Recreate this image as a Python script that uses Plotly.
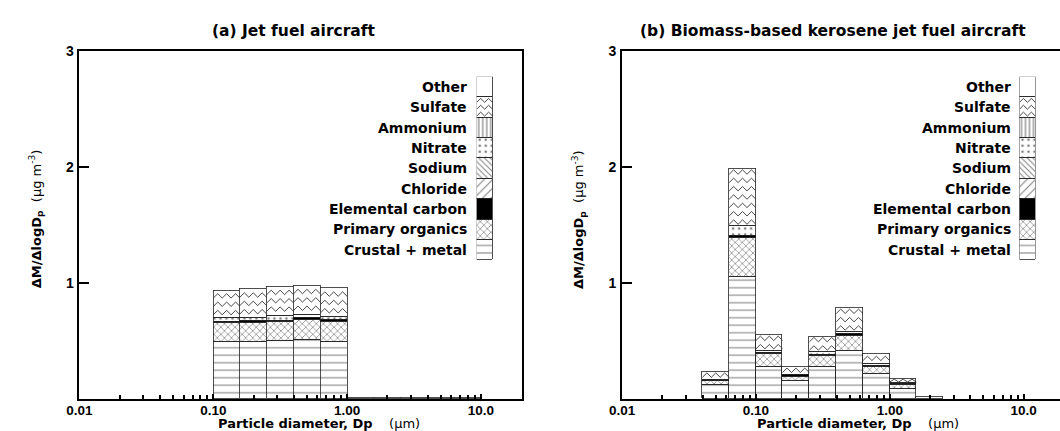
import numpy as np
import plotly.graph_objects as go

# ---------------- data ----------------
CATEGORIES = ["Crustal + metal", "Primary organics", "Elemental carbon", "Chloride",
              "Sodium", "Nitrate", "Ammonium", "Sulfate", "Other"]

# (a) Jet fuel aircraft : size-bin edges (um) and dM/dlogDp (ug m-3) per species
EDGES_A = [0.100, 0.158, 0.251, 0.398, 0.631, 1.00, 1.58, 2.51, 3.98, 6.31, 10.0]
CRUSTAL_A = [0.497, 0.497, 0.506, 0.510, 0.500, 0.012, 0.012, 0.012, 0.012, 0.012]
ORGANICS_A = [0.160, 0.165, 0.160, 0.175, 0.170, 0, 0, 0, 0, 0]
EC_A = [0.013, 0.013, 0.013, 0.015, 0.013, 0, 0, 0, 0, 0]
CHLORIDE_A = [0, 0, 0, 0, 0, 0, 0, 0, 0, 0]
SODIUM_A = [0, 0, 0, 0, 0, 0, 0, 0, 0, 0]
NITRATE_A = [0.030, 0.025, 0.045, 0.030, 0.025, 0, 0, 0, 0, 0]
AMMONIUM_A = [0, 0, 0, 0, 0, 0, 0, 0, 0, 0]
SULFATE_A = [0.235, 0.250, 0.247, 0.250, 0.250, 0, 0, 0, 0, 0]
OTHER_A = [0, 0, 0, 0, 0, 0, 0, 0, 0, 0]

# (b) Biomass-based kerosene jet fuel aircraft
EDGES_B = [0.0398, 0.0631, 0.100, 0.158, 0.251, 0.398, 0.631, 1.00, 1.58, 2.51]
CRUSTAL_B = [0.125, 1.053, 0.282, 0.155, 0.282, 0.415, 0.217, 0.093, 0.020]
ORGANICS_B = [0.032, 0.340, 0.110, 0.038, 0.090, 0.132, 0.062, 0.032, 0]
EC_B = [0.006, 0.020, 0.012, 0.014, 0.012, 0.014, 0.014, 0.010, 0]
CHLORIDE_B = [0, 0, 0, 0, 0, 0, 0, 0, 0]
SODIUM_B = [0, 0, 0, 0, 0, 0, 0, 0, 0]
NITRATE_B = [0.008, 0.085, 0.014, 0.005, 0.026, 0.018, 0.012, 0.003, 0]
AMMONIUM_B = [0, 0, 0, 0, 0, 0, 0, 0, 0]
SULFATE_B = [0.069, 0.490, 0.138, 0.070, 0.132, 0.211, 0.090, 0.040, 0]
OTHER_B = [0, 0, 0, 0, 0, 0, 0, 0, 0]

X_TICK_VALUES = [0.01, 0.1, 1.0, 10.0]
X_TICK_LABELS = ["0.01", "0.10", "1.00", "10.0"]
Y_TICK_VALUES = [1, 2, 3]
Y_TICK_LABELS = ["1", "2", "3"]

TITLE_A = "(a) Jet fuel aircraft"
TITLE_B = "(b) Biomass-based kerosene jet fuel aircraft"

SERIES_A = [CRUSTAL_A, ORGANICS_A, EC_A, CHLORIDE_A, SODIUM_A, NITRATE_A, AMMONIUM_A, SULFATE_A, OTHER_A]
SERIES_B = [CRUSTAL_B, ORGANICS_B, EC_B, CHLORIDE_B, SODIUM_B, NITRATE_B, AMMONIUM_B, SULFATE_B, OTHER_B]

# ---------------- style ----------------
W, H = 1060, 431
FONT = "Liberation Sans, Arial, Helvetica, sans-serif"
DFONT = "DejaVu Sans, Verdana, sans-serif"
PX_PER_DECADE = 135.5
PX_PER_UNIT_Y = 118.0

STYLE = {
    "Crustal + metal": dict(color="white", pattern=dict(shape="-", size=7.5, solidity=0.14, fgcolor="black", bgcolor="white")),
    "Primary organics": dict(color="white", pattern=dict(shape="x", size=5, solidity=0.25, fgcolor="black", bgcolor="white")),
    "Elemental carbon": dict(color="black"),
    "Chloride": dict(color="white", pattern=dict(shape="/", size=6, solidity=0.18, fgcolor="black", bgcolor="white")),
    "Sodium": dict(color="white", pattern=dict(shape="\\", size=4, solidity=0.25, fgcolor="black", bgcolor="white")),
    "Nitrate": dict(color="white", pattern=dict(shape=".", size=6, solidity=0.16, fgcolor="black", bgcolor="white")),
    "Ammonium": dict(color="white", pattern=dict(shape="|", size=4, solidity=0.3, fgcolor="black", bgcolor="white")),
    "Sulfate": dict(color="white"),
    "Other": dict(color="white"),
}
OUTLINE = dict(color="#222222", width=0.8)
ZIG_LINE = dict(color="#333333", width=0.9)


def zigzag(x0, x1, y0, y1, sx, sy, period=9.0, amp=4.5, gap=8.5):
    """Chevron texture inside a box, returned in data units."""
    w = (x1 - x0) * sx
    h = (y1 - y0) * sy
    xs, ys = [], []
    if h < 3 or w < 3:
        return xs, ys
    a = min(amp, 0.6 * h)
    n = max(1, int((h - a - 2) // gap) + 1)
    start = (h - (n - 1) * gap) / 2
    half = period / 2
    for r in range(n):
        c = start + r * gap
        px = np.arange(0.0, w + half, half)
        py = np.where(np.arange(len(px)) % 2 == 0, c - a / 2, c + a / 2).astype(float)
        if px[-1] > w:
            t = (w - px[-2]) / (px[-1] - px[-2])
            py[-1] = py[-2] + t * (py[-1] - py[-2])
            px[-1] = w
        xs += list(x0 + px / sx) + [None]
        ys += list(y0 + py / sy) + [None]
    return xs, ys


fig = go.Figure()


def add_panel(edges, series, xa, ya):
    lo = np.log10(np.array(edges[:-1]))
    hi = np.log10(np.array(edges[1:]))
    centers = (lo + hi) / 2
    widths = hi - lo
    base = np.zeros(len(centers))
    zx, zy = [], []
    for name, vals in zip(CATEGORIES, series):
        v = np.array(vals, dtype=float)
        yv = [val if val > 0 else None for val in v]
        st = STYLE[name]
        marker = dict(color=st["color"], line=OUTLINE)
        if "pattern" in st:
            marker["pattern"] = st["pattern"]
        fig.add_trace(go.Bar(x=centers, y=yv, width=widths, marker=marker, name=name,
                             xaxis=xa, yaxis=ya, showlegend=False, hoverinfo="skip"))
        if name == "Sulfate":
            for i in range(len(v)):
                if v[i] > 0:
                    a, b = zigzag(lo[i], hi[i], base[i], base[i] + v[i], PX_PER_DECADE, PX_PER_UNIT_Y)
                    zx += a
                    zy += b
        base = base + v
    fig.add_trace(go.Scatter(x=zx, y=zy, mode="lines", line=ZIG_LINE,
                             xaxis=xa, yaxis=ya, showlegend=False, hoverinfo="skip"))


def add_key(xa, ya, sx, sy):
    zx, zy = [], []
    for i, name in enumerate(CATEGORIES):
        st = STYLE[name]
        marker = dict(color=st["color"], line=OUTLINE)
        if "pattern" in st:
            marker["pattern"] = st["pattern"]
        fig.add_trace(go.Bar(x=[0.5], y=[1], width=[1], marker=marker, xaxis=xa, yaxis=ya,
                             showlegend=False, hoverinfo="skip"))
        if name == "Sulfate":
            a, b = zigzag(0, 1, i, i + 1, sx, sy, period=8.0, amp=4.0, gap=7.0)
            zx += a
            zy += b
    fig.add_trace(go.Scatter(x=zx, y=zy, mode="lines", line=ZIG_LINE,
                             xaxis=xa, yaxis=ya, showlegend=False, hoverinfo="skip"))


add_panel(EDGES_A, SERIES_A, "x", "y")
add_panel(EDGES_B, SERIES_B, "x2", "y2")

KEY_TOP, KEY_BOT = 70.0, 256.7
KEY_SY = (KEY_BOT - KEY_TOP) / len(CATEGORIES)
add_key("x3", "y3", 16.5, KEY_SY)
add_key("x4", "y4", 16.3, KEY_SY)

minor_vals = [float(np.log10(k * 10.0 ** e)) for e in (-2, -1, 0) for k in range(2, 10)]
xtick_font = dict(family=FONT, size=13.5, color="black")
ytick_font = dict(family=FONT, size=14, color="black")


def xaxis_cfg(dom, rng):
    return dict(domain=dom, range=rng, tickmode="array",
                tickvals=[float(np.log10(v)) for v in X_TICK_VALUES],
                ticktext=["<b>%s</b>" % t for t in X_TICK_LABELS],
                ticks="inside", ticklen=5, tickwidth=1.5, tickcolor="black",
                showline=True, linewidth=2, linecolor="black", mirror=True,
                showgrid=False, zeroline=False, tickfont=xtick_font, ticklabelstandoff=-2,
                minor=dict(tickvals=minor_vals, ticks="inside", ticklen=4, tickwidth=1.5,
                           tickcolor="black", showgrid=False))


def yaxis_cfg(dom, mirror):
    return dict(domain=dom, range=[0, 3], tickmode="array", tickvals=Y_TICK_VALUES,
                ticktext=["<b>%s</b>" % t for t in Y_TICK_LABELS],
                ticks="inside", ticklen=10, tickwidth=2, tickcolor="black",
                showline=True, linewidth=2, linecolor="black", mirror=mirror,
                showgrid=False, zeroline=False, tickfont=ytick_font, ticklabelstandoff=1)


YDOM = [(H - 398.3) / H, (H - 44.3) / H]
KEY_YDOM = [(H - KEY_BOT) / H, (H - KEY_TOP) / H]

fig.update_layout(
    width=W, height=H, autosize=False,
    margin=dict(l=0, r=0, t=0, b=0, pad=0),
    paper_bgcolor="white", plot_bgcolor="white",
    barmode="stack", bargap=0, showlegend=False,
    font=dict(family=FONT, color="black"),
    xaxis=dict(anchor="y", **xaxis_cfg([67.3 / W, 515.0 / W], [-2, -2 + (515.0 - 67.3) / PX_PER_DECADE])),
    yaxis=dict(anchor="x", **yaxis_cfg(YDOM, True)),
    xaxis2=dict(anchor="y2", **xaxis_cfg([616.7 / W, 1.0], [-2, -2 + (W - 616.7) / PX_PER_DECADE])),
    yaxis2=dict(anchor="x2", **yaxis_cfg(YDOM, False)),
    xaxis3=dict(anchor="y3", domain=[469.5 / W, 486.0 / W], range=[0, 1], visible=False),
    yaxis3=dict(anchor="x3", domain=KEY_YDOM, range=[0, len(CATEGORIES)], visible=False),
    xaxis4=dict(anchor="y4", domain=[1019.0 / W, 1035.3 / W], range=[0, 1], visible=False),
    yaxis4=dict(anchor="x4", domain=KEY_YDOM, range=[0, len(CATEGORIES)], visible=False),
)

ann = []
# key labels
for i, name in enumerate(CATEGORIES):
    for xr, yr in ((462.0 / W, "y3"), (1012.0 / W, "y4")):
        ann.append(dict(x=xr, xref="paper", y=i + 0.5, yref=yr, text="<b>%s</b>" % name,
                        showarrow=False, xanchor="right", yanchor="middle",
                        font=dict(family=DFONT, size=14, color="black")))
# panel titles
for xc, t in ((284.0, TITLE_A), (830.0, TITLE_B)):
    ann.append(dict(x=xc / W, xref="paper", y=1 - 23.5 / H, yref="paper", text="<b>%s</b>" % t,
                    showarrow=False, xanchor="center", yanchor="middle",
                    font=dict(family=DFONT, size=15.5, color="black")))
# axis titles
ytitle = "<b>\u0394M/\u0394logD<sub>p</sub></b>\u00a0\u00a0(\u03bcg m<sup>-3</sup>)"
xtitle = "<b>Particle diameter, Dp</b>\u00a0\u00a0\u00a0\u00a0(\u03bcm)"
for xc in (23.5, 573.0):
    ann.append(dict(x=xc / W, xref="paper", y=1 - 215.0 / H, yref="paper", text=ytitle,
                    showarrow=False, textangle=-90, xanchor="center", yanchor="middle",
                    font=dict(family=DFONT, size=13, color="black")))
for xc in (310.0, 855.0):
    ann.append(dict(x=xc / W, xref="paper", y=1 - 423.5 / H, yref="paper", text=xtitle,
                    showarrow=False, xanchor="center", yanchor="middle",
                    font=dict(family=DFONT, size=13, color="black")))
fig.update_layout(annotations=ann)

fig.write_html("out.html")
